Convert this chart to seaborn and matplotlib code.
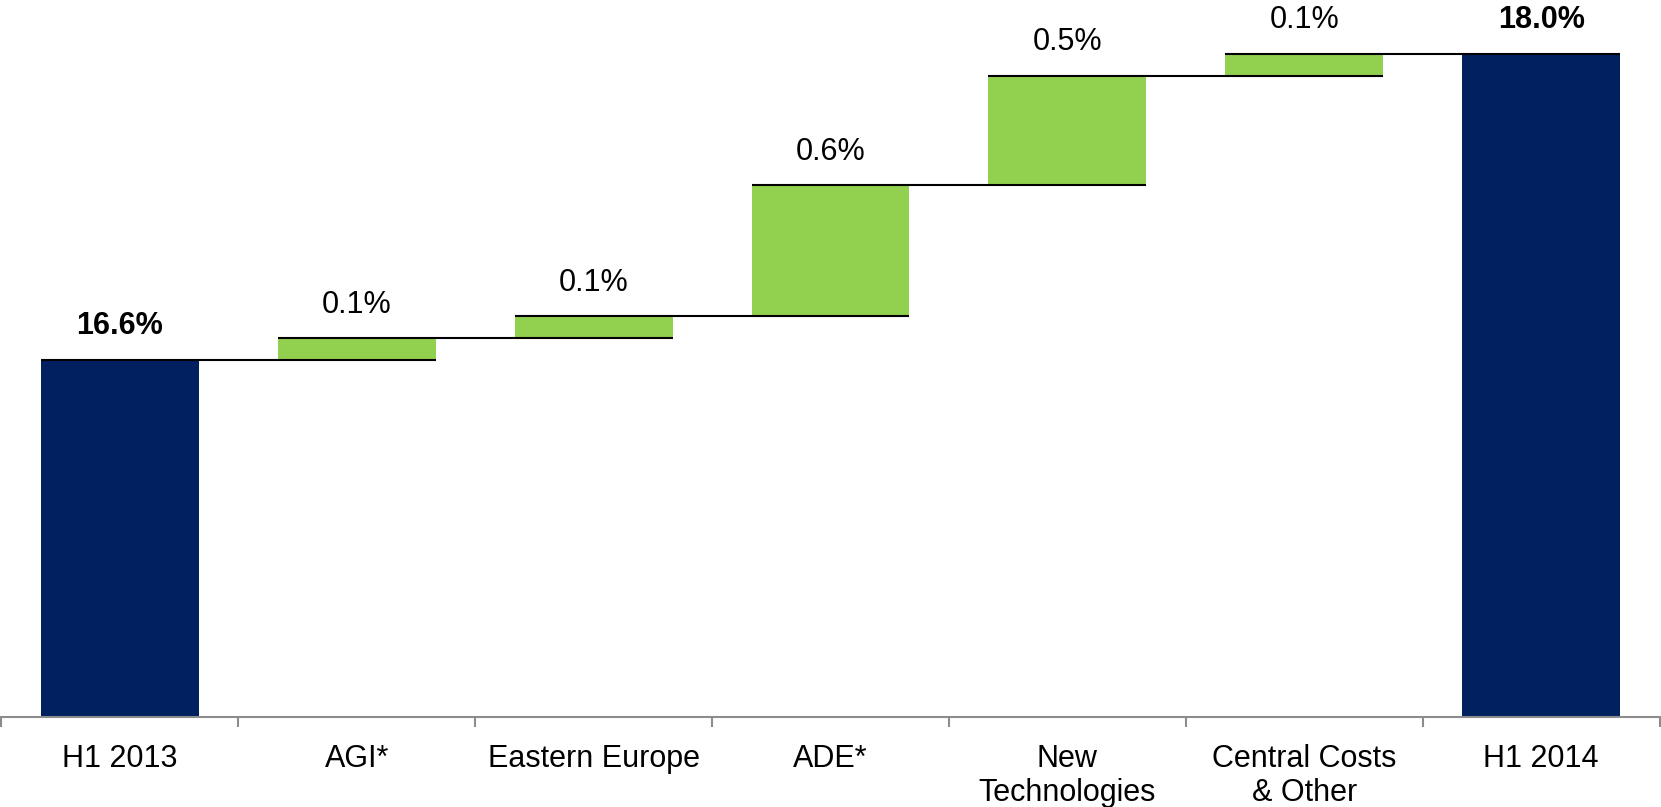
import matplotlib
matplotlib.use("Agg")
import matplotlib.pyplot as plt
import seaborn as sns
import numpy as np

# Operating margin bridge, H1 2013 -> H1 2014 (percent)
categories = ["H1 2013", "AGI*", "Eastern Europe", "ADE*",
              "New\nTechnologies", "Central Costs\n& Other", "H1 2014"]
start_value = 16.6
deltas = [0.1, 0.1, 0.6, 0.5, 0.1]
end_value = 18.0
value_labels = ["16.6%", "0.1%", "0.1%", "0.6%", "0.5%", "0.1%", "18.0%"]

NAVY = "#002060"
GREEN = "#92D050"
AXIS_GREY = "#8C8C8C"

sns.set_style("white")
plt.rcParams["font.family"] = ["Liberation Sans", "DejaVu Sans"]

# cumulative levels: bottoms and tops of every bar
tops = [start_value]
bottoms = [0.0]
for d in deltas:
    bottoms.append(tops[-1])
    tops.append(tops[-1] + d)
bottoms.append(0.0)
tops.append(end_value)
heights = [t - b for t, b in zip(tops, bottoms)]
colors = [NAVY] + [GREEN] * len(deltas) + [NAVY]

fig = plt.figure(figsize=(16.61, 8.07), dpi=100)
ax = fig.add_axes([0.0009, 0.1119, 0.9982, 0.8881])

bar_w = 0.667
sns.barplot(x=categories, y=tops, hue=categories, palette=colors,
            width=bar_w, legend=False, ax=ax, saturation=1,
            linewidth=0, order=categories, hue_order=categories)

# turn the cumulative bars into floating steps
for patch, b, h in zip(ax.patches, bottoms, heights):
    patch.set_y(b)
    patch.set_height(h)

ax.set_xlim(-0.5, len(categories) - 0.5)
ax.set_ylim(14.968, 18.248)

# connector lines from each bar's top across the next bar
half = bar_w / 2
for i in range(len(categories) - 1):
    ax.plot([i - half, i + 1 + half], [tops[i], tops[i]],
            color="black", lw=1.5, solid_capstyle="butt", zorder=3)

# value labels
for i, (t, lab) in enumerate(zip(tops, value_labels)):
    bold = i in (0, len(categories) - 1)
    ax.annotate(lab, xy=(i, t), xytext=(0, 18.5), textcoords="offset points",
                ha="center", va="baseline", fontsize=22,
                fontweight="bold" if bold else "normal", color="black")

# axis styling: grey baseline with tick marks between categories
for s in ("left", "right", "top"):
    ax.spines[s].set_visible(False)
ax.spines["bottom"].set_color(AXIS_GREY)
ax.spines["bottom"].set_linewidth(1.5)
ax.set_yticks([])
ax.set_xticks(np.arange(-0.5, len(categories), 1.0))
ax.set_xticklabels([])
ax.tick_params(axis="x", which="major", length=7.2, width=1.5,
               color=AXIS_GREY, direction="out", bottom=True)
ax.set_xticks(np.arange(len(categories)), minor=True)
ax.set_xticklabels(categories, minor=True, fontsize=22, color="black")
ax.tick_params(axis="x", which="minor", length=0, pad=19.5)
ax.set_xlabel("")
ax.set_ylabel("")

fig.savefig("out.png", dpi=100)
